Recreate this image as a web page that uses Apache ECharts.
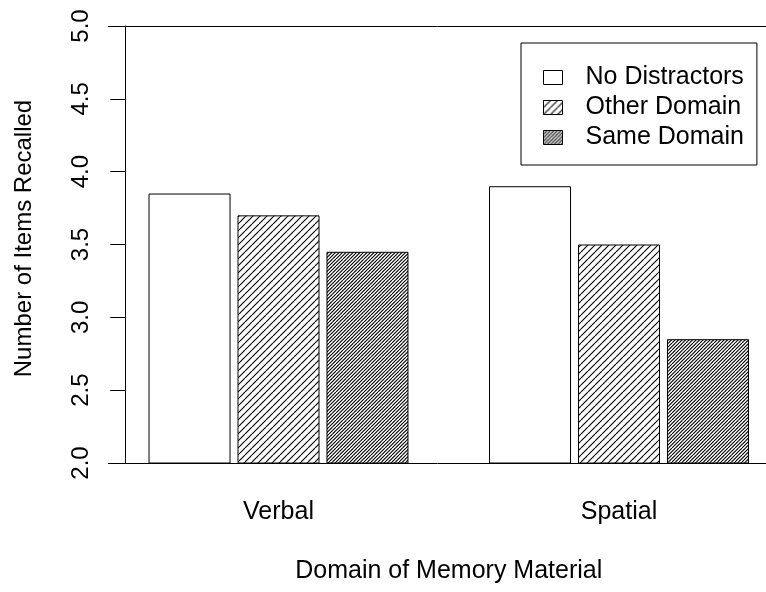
<!DOCTYPE html>
<html>
<head>
<meta charset="utf-8">
<script src="https://cdn.jsdelivr.net/npm/echarts@6/dist/echarts.min.js"></script>
<style>
html,body{margin:0;padding:0;background:#fff;}
#chart{width:766px;height:592px;}
</style>
</head>
<body>
<div id="chart"></div>
<script>
const categories = ['Verbal', 'Spatial'];
const seriesNames = ['No Distractors', 'Other Domain', 'Same Domain'];
const noDistractors = [3.85, 3.90];
const otherDomain = [3.70, 3.50];
const sameDomain = [3.45, 2.85];
const yTicks = [2.0, 2.5, 3.0, 3.5, 4.0, 4.5, 5.0];

function hatch(step, lines, lw) {
  const c = document.createElement('canvas');
  c.width = step; c.height = step;
  const ctx = c.getContext('2d');
  ctx.fillStyle = '#fff';
  ctx.fillRect(0, 0, step, step);
  ctx.strokeStyle = '#000';
  ctx.lineWidth = lw;
  ctx.beginPath();
  for (let j = 0; j < lines; j++) {
    const o = j * step / lines;
    for (let k = -1; k <= 1; k++) {
      ctx.moveTo(k * step + o, step);
      ctx.lineTo(k * step + o + step, 0);
    }
  }
  ctx.stroke();
  return { image: c, repeat: 'repeat' };
}

const fills = ['#ffffff', hatch(7, 1, 1.1), hatch(7, 2, 1.1)];
const dataSets = [noDistractors, otherDomain, sameDomain];
const font = 'Liberation Sans, Arial, Helvetica, sans-serif';

const chart = echarts.init(document.getElementById('chart'), null, { renderer: 'canvas' });
chart.setOption({
  animation: false,
  backgroundColor: '#fff',
  textStyle: { fontFamily: font, color: '#000' },
  grid: { left: 108.25, width: 681, top: 26, bottom: 129, containLabel: false, outerBoundsMode: 'none' },
  legend: {
    orient: 'vertical',
    left: 521, top: 43,
    padding: [22, 13, 15, 22],
    borderColor: '#000', borderWidth: 1,
    itemWidth: 19, itemHeight: 14, itemGap: 5,
    icon: 'rect',
    align: 'left',
    selectedMode: false,
    textStyle: { fontSize: 25, color: '#000', fontFamily: font, padding: [0, 0, 0, 18] },
    itemStyle: { borderColor: '#000', borderWidth: 1 },
    data: seriesNames
  },
  xAxis: [{
    type: 'category',
    data: categories,
    position: 'bottom',
    boundaryGap: true,
    axisLine: { show: true, lineStyle: { color: '#000', width: 1 } },
    axisTick: { show: false },
    axisLabel: { fontSize: 25, color: '#000', margin: 37, fontFamily: font },
    name: 'Domain of Memory Material',
    nameLocation: 'middle',
    nameGap: 96,
    nameTextStyle: { fontSize: 25, color: '#000', fontFamily: font },
    splitLine: { show: false }
  }, {
    type: 'category',
    data: categories,
    position: 'top',
    axisLine: { show: true, lineStyle: { color: '#000', width: 1 } },
    axisTick: { show: false },
    axisLabel: { show: false },
    splitLine: { show: false }
  }],
  yAxis: {
    type: 'value',
    min: yTicks[0], max: yTicks[yTicks.length - 1], interval: 0.5,
    offset: -17,
    axisLine: { show: true, lineStyle: { color: '#000', width: 1 } },
    axisTick: { show: true, length: 15, lineStyle: { color: '#000', width: 1 } },
    axisLabel: { rotate: 90, fontSize: 24, color: '#000', margin: 32, fontFamily: font,
      formatter: v => v.toFixed(1) },
    splitLine: { show: false },
    name: 'Number of Items Recalled',
    nameLocation: 'middle',
    nameRotate: 90,
    nameGap: 89,
    nameTextStyle: { fontSize: 24, color: '#000', fontFamily: font, padding: [0, 0, 0, 12] }
  },
  series: seriesNames.map((n, i) => ({
    name: n,
    type: 'bar',
    xAxisIndex: 0,
    data: dataSets[i],
    barWidth: 82,
    barGap: '8.5%',
    itemStyle: { color: fills[i], borderColor: '#000', borderWidth: 1 },
    emphasis: { disabled: true },
    clip: true
  }))
});
</script>
</body>
</html>
